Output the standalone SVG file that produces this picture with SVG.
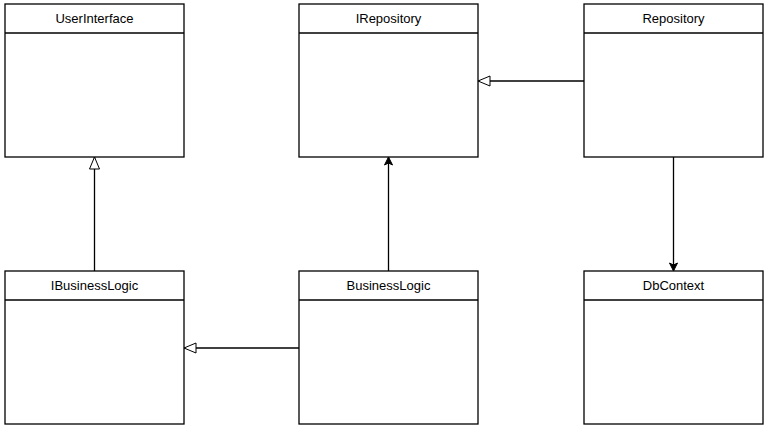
<svg xmlns="http://www.w3.org/2000/svg" width="768" height="429" viewBox="0 0 768 429">
<style>
.b{fill:#fff;stroke:#000;stroke-width:1.3}
.t{font-family:"Liberation Sans",Arial,sans-serif;font-size:13px;text-anchor:middle;fill:#000}
.c{stroke:#000;stroke-width:1.3;fill:none}
</style>
<defs>
<marker id="h" markerWidth="14" markerHeight="12" refX="13" refY="6" orient="auto" markerUnits="userSpaceOnUse"><path d="M1,1 L13,6 L1,11 Z" fill="#fff" stroke="#000"/></marker>
<marker id="f" markerWidth="10" markerHeight="10" refX="9" refY="5" orient="auto" markerUnits="userSpaceOnUse"><path d="M1,1 L9,5 L1,9 L3,5 Z" fill="#000" stroke="#000"/></marker>
</defs>
<rect width="768" height="429" fill="#fff"/>
<g id="UserInterface"><rect class="b" x="5" y="4" width="179" height="153"/><line class="c" x1="5" y1="33" x2="184" y2="33"/><text class="t" x="94.5" y="23">UserInterface</text></g>
<g id="IRepository"><rect class="b" x="299" y="4" width="179" height="153"/><line class="c" x1="299" y1="33" x2="478" y2="33"/><text class="t" x="388.5" y="23">IRepository</text></g>
<g id="Repository"><rect class="b" x="584" y="4" width="179" height="153"/><line class="c" x1="584" y1="33" x2="763" y2="33"/><text class="t" x="673.5" y="23">Repository</text></g>
<g id="IBusinessLogic"><rect class="b" x="5" y="271" width="179" height="153"/><line class="c" x1="5" y1="300" x2="184" y2="300"/><text class="t" x="94.5" y="290">IBusinessLogic</text></g>
<g id="BusinessLogic"><rect class="b" x="299" y="271" width="179" height="153"/><line class="c" x1="299" y1="300" x2="478" y2="300"/><text class="t" x="388.5" y="290">BusinessLogic</text></g>
<g id="DbContext"><rect class="b" x="584" y="271" width="179" height="153"/><line class="c" x1="584" y1="300" x2="763" y2="300"/><text class="t" x="673.5" y="290">DbContext</text></g>
<g id="connectors">
<line class="c" x1="94.5" y1="271" x2="94.5" y2="157" marker-end="url(#h)"/>
<line class="c" x1="388.5" y1="271" x2="388.5" y2="157" marker-end="url(#f)"/>
<line class="c" x1="584" y1="81" x2="478" y2="81" marker-end="url(#h)"/>
<line class="c" x1="299" y1="348" x2="184" y2="348" marker-end="url(#h)"/>
<line class="c" x1="673.5" y1="157" x2="673.5" y2="271" marker-end="url(#f)"/>
</g>
</svg>
